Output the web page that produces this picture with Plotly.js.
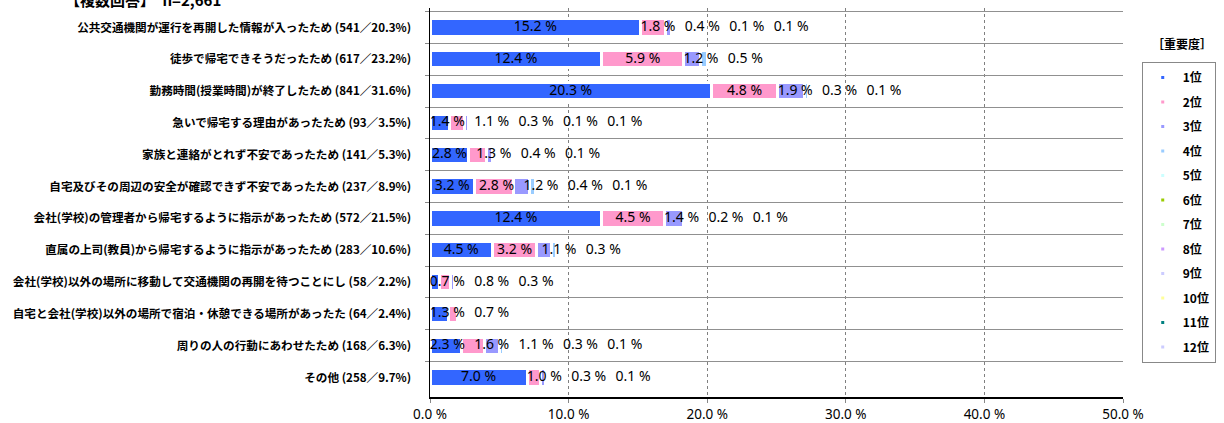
<!DOCTYPE html>
<html>
<head>
<meta charset="utf-8">
<script src="https://cdn.plot.ly/plotly-3.0.1.min.js"></script>
<style>
html,body{margin:0;padding:0;background:#fff;}
#chart{width:1224px;height:423px;}
</style>
</head>
<body>
<div id="chart"></div>
<script>
// ---- data ----
const categories = [
  "公共交通機関が運行を再開した情報が入ったため (541／20.3%)",
  "徒歩で帰宅できそうだったため (617／23.2%)",
  "勤務時間(授業時間)が終了したため (841／31.6%)",
  "急いで帰宅する理由があったため (93／3.5%)",
  "家族と連絡がとれず不安であったため (141／5.3%)",
  "自宅及びその周辺の安全が確認できず不安であったため (237／8.9%)",
  "会社(学校)の管理者から帰宅するように指示があったため (572／21.5%)",
  "直属の上司(教員)から帰宅するように指示があったため (283／10.6%)",
  "会社(学校)以外の場所に移動して交通機関の再開を待つことにし (58／2.2%)",
  "自宅と会社(学校)以外の場所で宿泊・休憩できる場所があったた (64／2.4%)",
  "周りの人の行動にあわせたため (168／6.3%)",
  "その他 (258／9.7%)"
];
const rank1 = [15.2, 12.4, 20.3, 1.4, 2.8, 3.2, 12.4, 4.5, 0.7, 1.3, 2.3, 7.0];
const rank2 = [1.8, 5.9, 4.8, 1.1, 1.3, 2.8, 4.5, 3.2, 0.8, 0.7, 1.6, 1.0];
const rank3 = [0.4, 1.2, 1.9, 0.3, 0.4, 1.2, 1.4, 1.1, 0.3, null, 1.1, 0.3];
const rank4 = [0.1, 0.5, 0.3, 0.1, 0.1, 0.4, 0.2, 0.3, null, null, 0.3, 0.1];
const rank5 = [0.1, null, 0.1, 0.1, null, 0.1, 0.1, null, null, null, 0.1, null];
const rankNames = ["1位","2位","3位","4位","5位","6位","7位","8位","9位","10位","11位","12位"];
const rankColors = ["#3366FF","#FF99CC","#9999FF","#99CCFF","#CCFFFF","#99CC00",
                    "#CCFFCC","#CC99FF","#CCCCFF","#FFFF99","#008080","#CCCCFF"];
const rankSeries = [rank1, rank2, rank3, rank4, rank5];
const xTickVals = [0, 10, 20, 30, 40, 50];
const xTickText = ["0.0 %", "10.0 %", "20.0 %", "30.0 %", "40.0 %", "50.0 %"];
const titleText = "【複数回答】　n=2,661";
const legendTitle = "［重要度］";

// ---- layout constants ----
const W = 1224, H = 423;
const M = {l: 430, r: 91, t: 8, b: 26};
const plotW = W - M.l - M.r;
const plotH = H - M.t - M.b;
const xMax = 50;
const pxPerUnit = plotW / xMax;
const labelFont = "Noto Sans";
const labelSize = 14;

// ---- bar traces ----
const traces = [];
rankSeries.forEach((vals, k) => {
  traces.push({
    type: "bar", orientation: "h",
    y: categories, x: vals,
    marker: {color: rankColors[k], line: {color: "#ffffff", width: 3}},
    showlegend: false, hoverinfo: "skip"
  });
});

// ---- data labels with simple collision avoidance ----
const cv = document.createElement("canvas").getContext("2d");
cv.font = labelSize + "px 'Noto Sans'";
const lx = [], ly = [], lt = [];
const gapPx = 10;
categories.forEach((cat, i) => {
  let cum = 0;
  let prevRight = -Infinity;
  rankSeries.forEach(vals => {
    const v = vals[i];
    if (v === null || v === undefined) return;
    const start = cum, end = cum + v;
    cum = end;
    const txt = v.toFixed(1) + " %";
    const w = cv.measureText(txt).width / pxPerUnit;
    const center = (start + end) / 2;
    let left = Math.max(center - w / 2, start, prevRight + gapPx / pxPerUnit);
    prevRight = left + w;
    lx.push(left + w / 2); ly.push(cat); lt.push(txt);
  });
});
traces.push({
  type: "scatter", mode: "text", x: lx, y: ly, text: lt,
  textposition: "middle center",
  textfont: {family: labelFont, size: labelSize, color: "#000"},
  showlegend: false, hoverinfo: "skip", cliponaxis: false
});

// ---- legend entries ----
rankNames.forEach((nm, k) => {
  traces.push({
    type: "scatter", mode: "markers", x: [null], y: [null],
    name: nm, legendgroup: "g" + k,
    marker: {symbol: "square", size: 3, color: rankColors[k]},
    showlegend: true, hoverinfo: "skip"
  });
});

const layout = {
  width: W, height: H,
  margin: M,
  paper_bgcolor: "#fff", plot_bgcolor: "#fff",
  barmode: "stack",
  bargap: 0.46,
  showlegend: true,
  legend: {
    x: (1152 - M.l) / plotW, xanchor: "left",
    y: 1 - (62 - M.t) / plotH, yanchor: "top",
    bgcolor: "#fff", bordercolor: "#888", borderwidth: 1,
    font: {family: "Noto Sans CJK JP", size: 12, color: "#000", weight: "bold"},
    traceorder: "grouped", tracegroupgap: 5.5, itemwidth: 30
  },
  xaxis: {
    range: [0, xMax], tickmode: "array", tickvals: xTickVals, ticktext: xTickText,
    showgrid: true, gridcolor: "#808080", griddash: "dot", gridwidth: 1,
    zeroline: false, showline: true, linecolor: "#000", linewidth: 1.5,
    ticks: "outside", ticklen: 4, tickcolor: "#888",
    tickfont: {family: labelFont, size: 13.5, color: "#000"},
    fixedrange: true
  },
  yaxis: {
    type: "category", autorange: "reversed",
    tickson: "boundaries", showgrid: true, gridcolor: "#909090", gridwidth: 1,
    showline: true, linecolor: "#000", linewidth: 1.5,
    ticks: "outside", ticklen: 4, tickcolor: "#888",
    ticklabelstandoff: 15,
    tickfont: {family: "Noto Sans CJK JP", size: 11.6, color: "#000", weight: "bold"},
    fixedrange: true
  },
  annotations: [
    {text: legendTitle, xref: "paper", yref: "paper",
     x: (1193 - M.l) / plotW, y: 1 - (43 - M.t) / plotH,
     xanchor: "center", yanchor: "middle", showarrow: false,
     font: {family: "Noto Sans CJK JP", size: 12, color: "#000", weight: "bold"}},
    {text: titleText, xref: "paper", yref: "paper",
     x: (58 - M.l) / plotW, y: 1 + (M.t + 1) / plotH,
     xanchor: "left", yanchor: "middle", showarrow: false,
     font: {family: "Noto Sans CJK JP", size: 15, color: "#000", weight: "bold"}}
  ]
};

Plotly.newPlot("chart", traces, layout, {displayModeBar: false, staticPlot: true});
</script>
</body>
</html>
